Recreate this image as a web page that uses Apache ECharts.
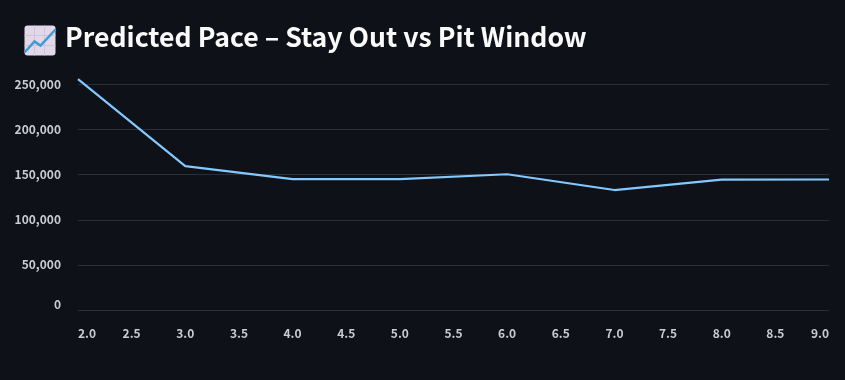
<!DOCTYPE html>
<html><head><meta charset="utf-8">
<style>html,body{margin:0;padding:0;background:#0e1117}#c{width:845px;height:380px}</style>
<script src="https://cdn.jsdelivr.net/npm/echarts@6/dist/echarts.min.js"></script>
</head><body><div id="c"></div>
<script>
const titleText = "Predicted Pace – Stay Out vs Pit Window";
const laps = [2, 3, 4, 5, 6, 7, 8, 9];
const pace = [256000, 159500, 145000, 145000, 150500, 133000, 144500, 144700];
const chart = echarts.init(document.getElementById('c'), null, {renderer:'canvas'});
const font = '"Noto Sans CJK SC", "Noto Sans", sans-serif';
chart.setOption({
  animation:false,
  backgroundColor:'#0e1117',
  title:{text:titleText,left:60,top:19,textStyle:{color:'#fafafa',fontFamily:font,fontWeight:600,fontSize:26.6}},
  graphic:[{type:'group',left:22,top:23,children:[
    {type:'rect',shape:{x:0,y:0,width:31,height:30,r:3},style:{fill:'#e3d8ea'}},
    {type:'polyline',shape:{points:[[10,0],[10,30]]},style:{stroke:'#cfc4d9',lineWidth:1}},
    {type:'polyline',shape:{points:[[20,0],[20,30]]},style:{stroke:'#cfc4d9',lineWidth:1}},
    {type:'polyline',shape:{points:[[0,10],[31,10]]},style:{stroke:'#cfc4d9',lineWidth:1}},
    {type:'polyline',shape:{points:[[0,20],[31,20]]},style:{stroke:'#cfc4d9',lineWidth:1}},
    {type:'polyline',shape:{points:[[0,27],[10,16],[16,20],[31,4]]},style:{stroke:'#3f9bd8',fill:null,lineWidth:2.5}}
  ]}],
  grid:{left:78,right:16,top:84.5,bottom:70},
  xAxis:{type:'value',min:2,max:9,interval:0.5,
    axisLine:{show:false},axisTick:{show:false},splitLine:{show:false},
    axisLabel:{color:'#c9ccd3',fontFamily:font,fontSize:12,fontWeight:600,margin:17,
      alignMinLabel:'left',alignMaxLabel:'right',formatter:v=>v.toFixed(1)}},
  yAxis:{type:'value',min:0,max:250000,interval:50000,
    axisLine:{show:false},axisTick:{show:false},
    splitLine:{show:true,lineStyle:{color:'#2b2e36',width:1}},
    axisLabel:{color:'#c9ccd3',fontFamily:font,fontSize:12,fontWeight:600,margin:17,
      verticalAlignMinLabel:'bottom',formatter:v=>v.toLocaleString('en-US')}},
  series:[{type:'line',data:laps.map((x,i)=>[x,pace[i]]),clip:false,showSymbol:false,smooth:false,
    lineStyle:{color:'#83c9ff',width:2.2}}]
});
</script></body></html>
